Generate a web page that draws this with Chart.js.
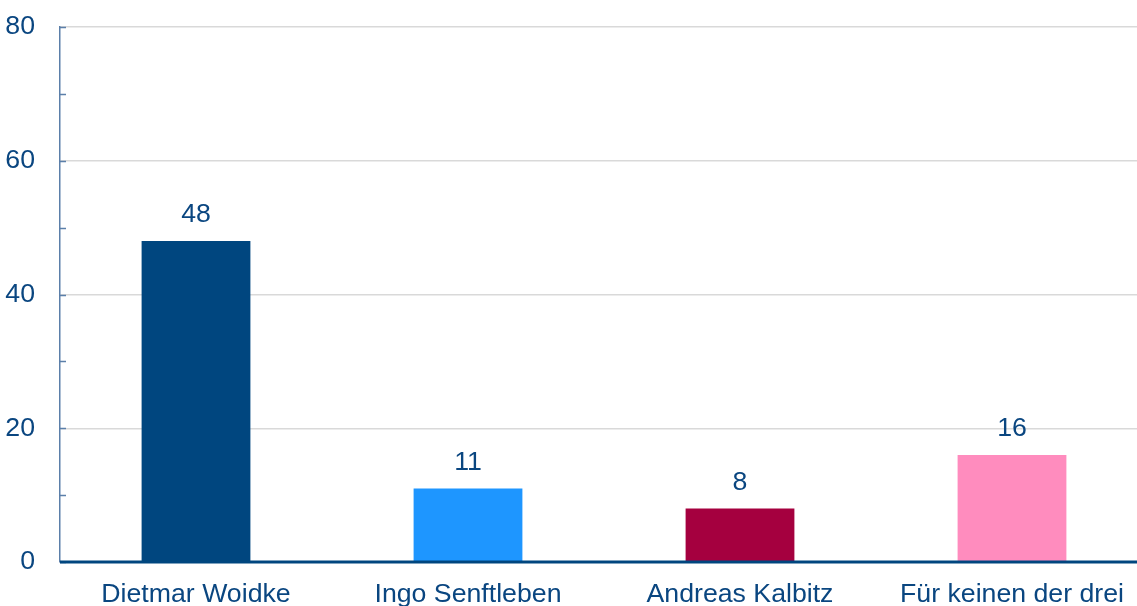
<!DOCTYPE html>
<html>
<head>
<meta charset="utf-8">
<script src="https://cdn.jsdelivr.net/npm/chart.js@4/dist/chart.umd.min.js"></script>
<style>
  html, body { margin: 0; padding: 0; background: #fff; overflow: hidden; }
  /* plot runs a little past the right edge of the window, as in the original */
  #wrap { width: 1148px; height: 606px; }
</style>
</head>
<body>
<div id="wrap"><canvas id="chart"></canvas></div>
<script>
// chart data
const categories = ['Dietmar Woidke', 'Ingo Senftleben', 'Andreas Kalbitz', 'Für keinen der drei'];
const values = [48, 11, 8, 16];
const barColors = ['#00467f', '#1e96ff', '#a5003f', '#ff8cbe'];
const yTicks = [0, 20, 40, 60, 80];

const textColor = '#0a4680';
const fontSpec = { family: "'Liberation Sans', Arial, sans-serif", size: 26.7 };

// draws the value over each bar, the small inner tick marks and the bottom axis
const extrasPlugin = {
  id: 'extras',
  afterDatasetsDraw(chart) {
    const ctx = chart.ctx;
    const y = chart.scales.y;
    const meta = chart.getDatasetMeta(0);
    ctx.save();
    ctx.font = fontSpec.size + 'px ' + fontSpec.family;
    ctx.fillStyle = textColor;
    ctx.textAlign = 'center';
    ctx.textBaseline = 'middle';
    meta.data.forEach((bar, i) => {
      ctx.fillText(String(values[i]), bar.x, bar.y - 26);
    });
    // minor tick marks every 10
    ctx.strokeStyle = '#5b7fa9';
    ctx.lineWidth = 1.5;
    y.ticks.forEach(t => {
      const py = Math.round(y.getPixelForValue(t.value)) + 0.5;
      ctx.beginPath();
      ctx.moveTo(y.right, py);
      ctx.lineTo(y.right + 6, py);
      ctx.stroke();
    });
    // bottom axis line
    const x = chart.scales.x;
    const by = y.getPixelForValue(0);
    ctx.strokeStyle = '#00467f';
    ctx.lineWidth = 3;
    ctx.beginPath();
    ctx.moveTo(x.left, by);
    ctx.lineTo(x.right, by);
    ctx.stroke();
    ctx.restore();
  }
};

new Chart(document.getElementById('chart'), {
  type: 'bar',
  data: {
    labels: categories,
    datasets: [{
      data: values,
      backgroundColor: barColors,
      borderWidth: 0,
      barPercentage: 0.4,
      categoryPercentage: 1
    }]
  },
  options: {
    responsive: true,
    maintainAspectRatio: false,
    animation: false,
    layout: { padding: { top: 27, right: 0, left: 0, bottom: 0 } },
    plugins: {
      legend: { display: false },
      tooltip: { enabled: false }
    },
    scales: {
      x: {
        grid: { display: false, drawTicks: false },
        border: { display: false },
        ticks: { color: textColor, font: fontSpec, padding: 17, maxRotation: 0, autoSkip: false },
        afterFit(scale) { scale.height = 44; }
      },
      y: {
        min: 0,
        max: 80,
        grid: {
          drawTicks: false,
          lineWidth: 1.5,
          color: c => (c.tick && c.tick.value % 20 === 0 && c.tick.value !== 0) ? '#d9d9d9' : 'rgba(0,0,0,0)'
        },
        border: { display: true, color: '#5b7fa9', width: 1.5 },
        ticks: {
          stepSize: 10,
          color: textColor,
          font: fontSpec,
          padding: 25,
          callback: v => yTicks.includes(v) ? String(v) : ''
        },
        afterFit(scale) {
          scale.width = 60;
          scale.paddingTop = 0;
          scale.paddingBottom = 0;
        }
      }
    }
  },
  plugins: [extrasPlugin]
});
</script>
</body>
</html>
